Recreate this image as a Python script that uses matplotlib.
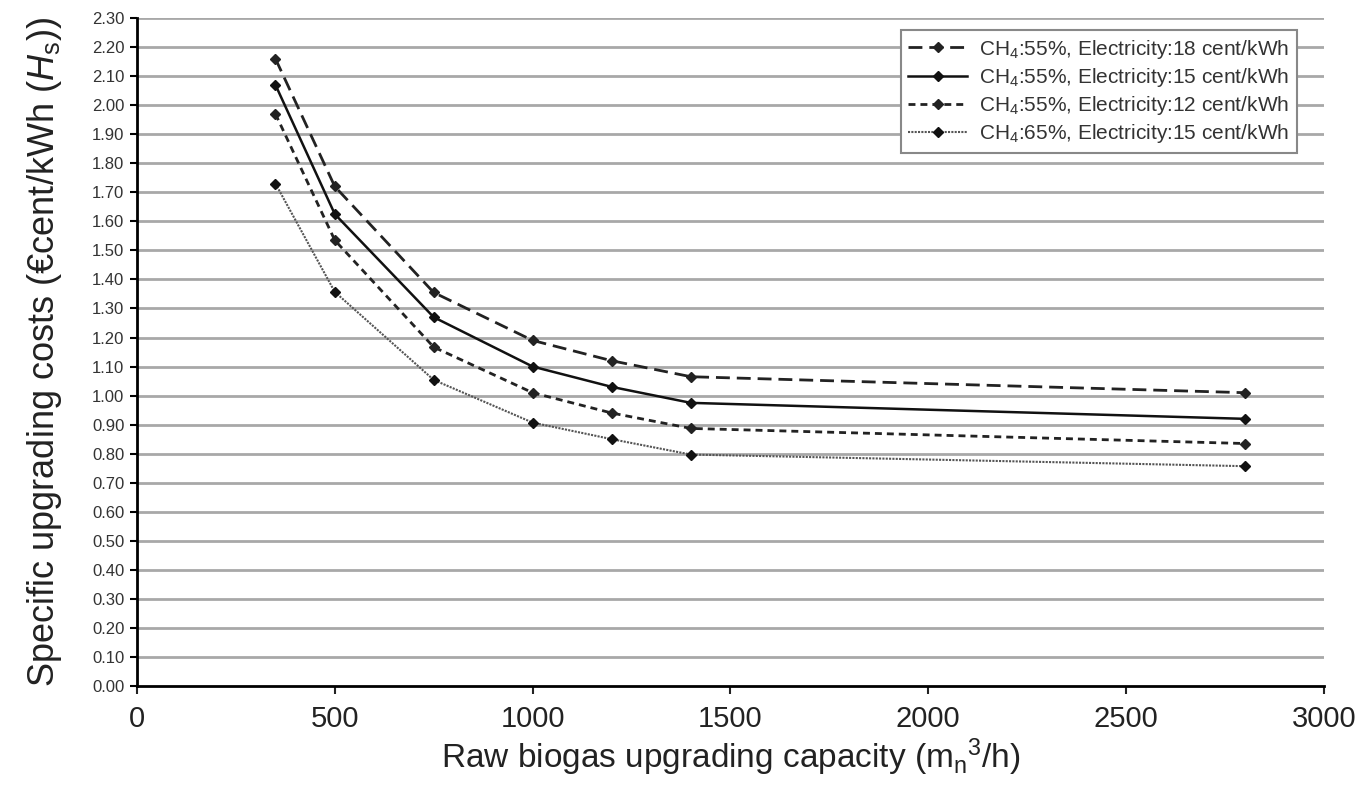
import numpy as np
import matplotlib.pyplot as plt

plt.rcParams['font.family'] = ['Liberation Sans', 'DejaVu Sans']
plt.rcParams['mathtext.fontset'] = 'custom'
plt.rcParams['mathtext.rm'] = 'Liberation Sans'
plt.rcParams['mathtext.it'] = 'Liberation Sans:italic'

# data
capacity = [350, 500, 750, 1000, 1200, 1400, 2800]
cost_55_18 = [2.16, 1.72, 1.355, 1.19, 1.12, 1.065, 1.01]
cost_55_15 = [2.07, 1.625, 1.27, 1.10, 1.03, 0.975, 0.92]
cost_55_12 = [1.97, 1.535, 1.167, 1.01, 0.94, 0.887, 0.835]
cost_65_15 = [1.73, 1.357, 1.054, 0.907, 0.85, 0.797, 0.757]

labels = [r"CH$_4$:55%, Electricity:18 cent/kWh",
          r"CH$_4$:55%, Electricity:15 cent/kWh",
          r"CH$_4$:55%, Electricity:12 cent/kWh",
          r"CH$_4$:65%, Electricity:15 cent/kWh"]

fig = plt.figure(figsize=(13.6, 7.91), dpi=100)
ax = fig.add_axes([0.1007, 0.1327, 0.8728, 0.8445])

ax.set_yticks(np.arange(0, 2.31, 0.1))
for y in np.arange(0.1, 2.31, 0.1):
    ax.axhline(y, color='#a8a8a8', lw=2, zorder=0)

ax.plot(capacity, cost_55_18, color='#222222', lw=2, ls=(0, (5, 2.5)),
        marker='D', ms=5, label=labels[0])
ax.plot(capacity, cost_55_15, color='#111111', lw=1.8, ls='-',
        marker='D', ms=5, label=labels[1])
ax.plot(capacity, cost_55_12, color='#222222', lw=2, ls=(0, (2.5, 1.8)),
        marker='D', ms=5, label=labels[2])
ax.plot(capacity, cost_65_15, color='#555555', lw=1.5, ls=(0, (1, 0.6)),
        marker='D', ms=5, mfc='#111111', mec='#111111', label=labels[3])

ax.set_xlim(0, 3000)
ax.set_ylim(0, 2.30)
ax.set_xticks(range(0, 3001, 500))
ax.set_yticklabels([f"{v:.2f}" for v in np.arange(0, 2.31, 0.1)], fontsize=12, color='#333333')
ax.tick_params(axis='x', labelsize=21, length=6, width=1.5, pad=8, colors='#222222')
ax.tick_params(axis='y', length=5, width=1.5, pad=4)

for s in ['top', 'right']:
    ax.spines[s].set_visible(False)
ax.spines['left'].set_linewidth(2)
ax.spines['bottom'].set_linewidth(2)

ax.set_xlabel(r"Raw biogas upgrading capacity (m$_\mathrm{n}$$^3$/h)", fontsize=24, color='#222222', labelpad=2)
ax.set_ylabel(r"Specific upgrading costs (€cent/kWh ($H_\mathrm{s}$))", fontsize=26, color='#222222', labelpad=20)

leg = ax.legend(loc='upper right', bbox_to_anchor=(0.9857, 0.997), fontsize=15,
                frameon=True, fancybox=False, edgecolor='#888888', framealpha=1,
                handlelength=2.8, handletextpad=0.6, labelspacing=0.25, borderpad=0.35)
leg.get_frame().set_linewidth(1.5)
for t in leg.get_texts():
    t.set_color('#333333')

fig.savefig('out.png', dpi=100)
